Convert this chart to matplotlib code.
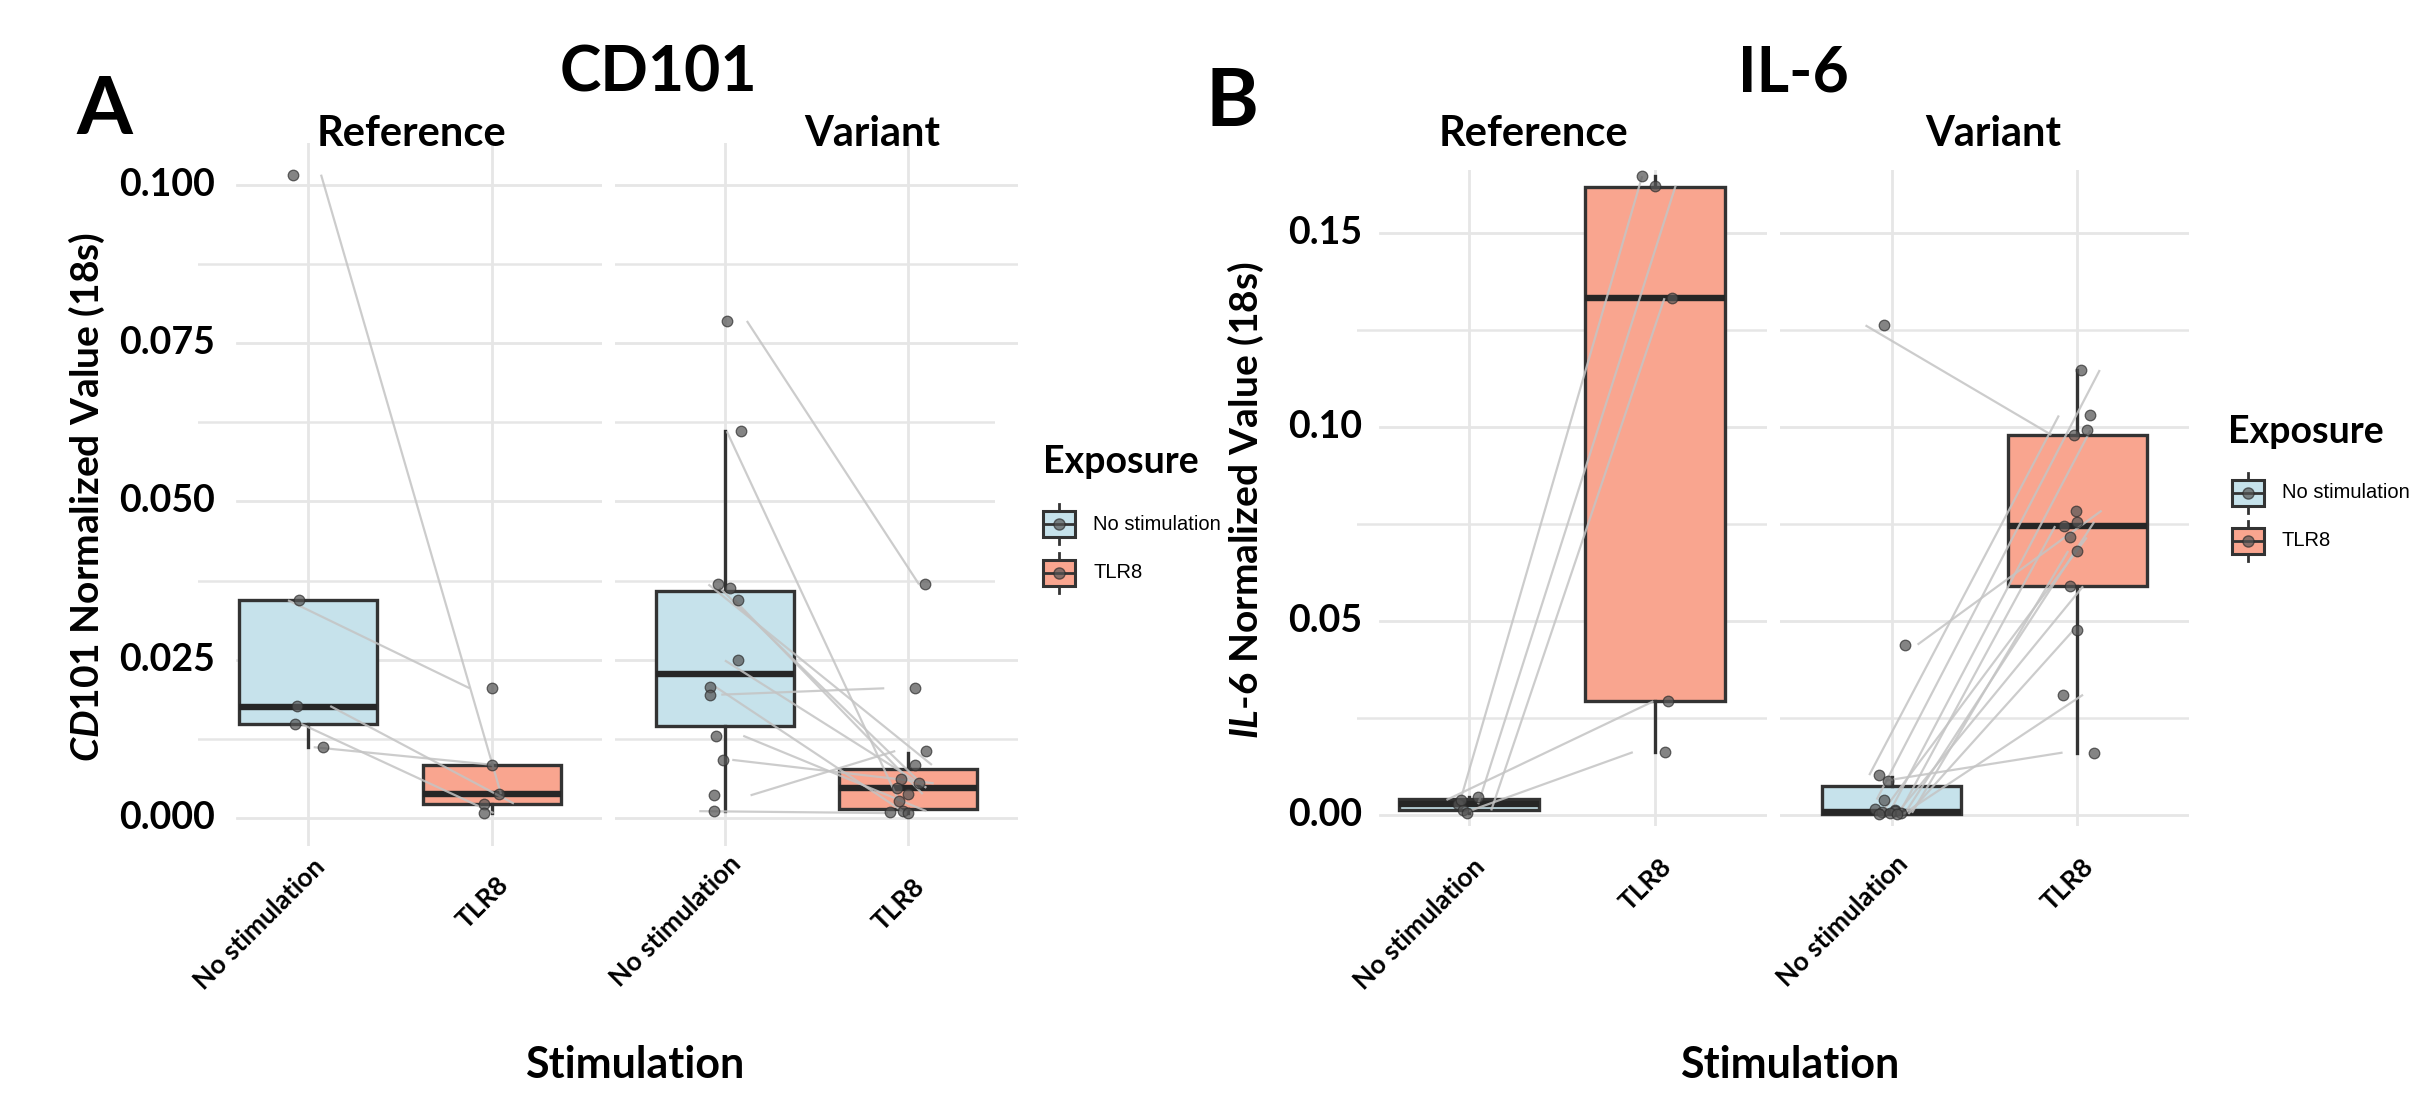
import numpy as np
import matplotlib
matplotlib.use('Agg')
import matplotlib.pyplot as plt
import matplotlib.transforms as mtransforms
from matplotlib.patches import Rectangle
from matplotlib.lines import Line2D

plt.rcParams['font.family'] = ['Lato', 'DejaVu Sans']
plt.rcParams['font.weight'] = 'bold'
plt.rcParams['mathtext.fontset'] = 'custom'
plt.rcParams['mathtext.it'] = 'Lato:italic:bold'
plt.rcParams['mathtext.rm'] = 'Lato:bold'

W, H = 2417, 1106  # pixels at dpi 100

categories = ['No stimulation', 'TLR8']
exposures = ['No stimulation', 'TLR8']

# ---------------- CD101 ----------------
# Reference donors (paired: no stimulation -> TLR8)
cd101_ref_ns = [0.1016, 0.0344, 0.0177, 0.0149, 0.0112]
cd101_ref_tlr8 = [0.0038, 0.0205, 0.0023, 0.0008, 0.0084]
cd101_ref_ns_jit = [-0.08, -0.05, -0.06, -0.07, 0.08]
cd101_ref_tlr8_jit = [0.04, 0.0, -0.04, -0.04, 0.0]
cd101_ref_line_start = [0.07, -0.11, 0.12, -0.04, 0.03]
cd101_ref_line_end = [0.05, -0.12, 0.12, 0.01, 0.01]
# box stats: whislo, q1, median, q3, whishi
cd101_ref_ns_box = [0.0112, 0.0149, 0.0176, 0.0344, 0.0344]
cd101_ref_tlr8_box = [0.0008, 0.0022, 0.0038, 0.0084, 0.0084]

# Variant donors
cd101_var_ns = [0.0785, 0.0611, 0.0369, 0.0364, 0.0345, 0.0249,
                0.0207, 0.0195, 0.0130, 0.0092, 0.0036, 0.0011]
cd101_var_tlr8 = [0.0369, 0.0027, 0.0084, 0.0061, 0.0038, 0.0048,
                  0.0009, 0.0205, 0.0011, 0.0055, 0.0106, 0.0008]
cd101_var_ns_jit = [0.01, 0.09, -0.04, 0.03, 0.07, 0.07,
                    -0.08, -0.08, -0.05, -0.01, -0.06, -0.06]
cd101_var_tlr8_jit = [0.09, -0.05, 0.04, -0.04, 0.0, -0.06,
                      -0.10, 0.04, -0.03, 0.06, 0.10, 0.0]
cd101_var_line_start = [0.12, 0.01, -0.09, -0.03, 0.05, 0.0,
                        -0.05, -0.02, 0.10, 0.04, 0.14, -0.14]
cd101_var_line_end = [0.06, -0.05, 0.13, 0.05, 0.08, 0.10,
                      -0.02, -0.13, 0.10, 0.14, -0.07, -0.11]
cd101_var_ns_box = [0.0011, 0.0145, 0.0228, 0.0358, 0.0611]
cd101_var_tlr8_box = [0.0008, 0.0014, 0.0048, 0.0077, 0.0103]

# ---------------- IL-6 ----------------
il6_ref_ns = [0.0047, 0.0028, 0.0012, 0.0039, 0.0005]
il6_ref_tlr8 = [0.1645, 0.1621, 0.1331, 0.0293, 0.0162]
il6_ref_ns_jit = [0.05, -0.06, -0.03, -0.04, -0.01]
il6_ref_tlr8_jit = [-0.07, 0.0, 0.09, 0.07, 0.05]
il6_ref_line_start = [-0.04, 0.05, 0.12, -0.12, -0.03]
il6_ref_line_end = [-0.07, 0.11, 0.05, -0.01, -0.12]
il6_ref_ns_box = [0.0005, 0.0012, 0.0028, 0.0041, 0.0047]
il6_ref_tlr8_box = [0.0162, 0.0293, 0.1331, 0.1618, 0.1645]

il6_var_ns = [0.1261, 0.0439, 0.0103, 0.0089, 0.0040, 0.0017, 0.0012,
              0.0011, 0.0008, 0.0006, 0.0005, 0.0003, 0.0002]
il6_var_tlr8 = [0.0979, 0.0784, 0.1029, 0.0161, 0.1146, 0.0991, 0.0744,
                0.0755, 0.0715, 0.0680, 0.0589, 0.0477, 0.0310]
il6_var_ns_jit = [-0.04, 0.07, -0.07, -0.02, -0.04, -0.09, 0.02,
                  0.02, -0.05, 0.05, -0.01, 0.03, -0.07]
il6_var_tlr8_jit = [-0.02, -0.01, 0.07, 0.09, 0.02, 0.05, -0.07,
                    0.0, -0.04, 0.0, -0.04, 0.0, -0.08]
il6_var_line_start = [-0.14, 0.14, -0.12, -0.03, -0.08, 0.0, 0.05,
                      0.08, -0.05, 0.11, 0.03, 0.09, 0.06]
il6_var_line_end = [-0.14, 0.13, -0.10, -0.08, 0.12, 0.07, -0.12,
                    0.09, 0.05, -0.05, 0.03, -0.02, 0.03]
il6_var_ns_box = [0.0002, 0.0003, 0.0008, 0.0075, 0.0098]
il6_var_tlr8_box = [0.0161, 0.0589, 0.0744, 0.0979, 0.1146]

cd101_major = [0.0, 0.025, 0.05, 0.075, 0.1]
cd101_major_labels = ['0.000', '0.025', '0.050', '0.075', '0.100']
cd101_minor = [0.0125, 0.0375, 0.0625, 0.0875]
il6_major = [0.0, 0.05, 0.10, 0.15]
il6_major_labels = ['0.00', '0.05', '0.10', '0.15']
il6_minor = [0.025, 0.075, 0.125]

BLUE = '#C6E2EB'
SALMON = '#F9A58F'
EDGE = '#333333'
GRID = '#e6e6e6'

fig = plt.figure(figsize=(W / 100, H / 100), dpi=100)
fig.patch.set_facecolor('white')


def fx(px):
    return px / W


def fy(py):
    return 1 - py / H


def px_offset(dx, dy):
    return mtransforms.ScaledTranslation(dx / 100, -dy / 100, fig.dpi_scale_trans)


def make_ax(left, right, top, bottom):
    ax = fig.add_axes([fx(left), fy(bottom), (right - left) / W, (bottom - top) / H])
    ax.set_facecolor('none')
    for s in ax.spines.values():
        s.set_visible(False)
    ax.set_xticks([])
    ax.set_yticks([])
    return ax


def box_stats(vals):
    return dict(whislo=vals[0], q1=vals[1], med=vals[2], q3=vals[3],
                whishi=vals[4], fliers=[])


def draw_facet(ax, ylim, major, minor, major_start, ns, tlr8, ns_jit, tlr8_jit,
               ls, le, ns_box, tlr8_box):
    ax.set_xlim(-0.6, 1.6)
    ax.set_ylim(*ylim)
    for v in minor:
        ax.axhline(v, color=GRID, lw=1.8, zorder=0.5)
    for v in major:
        ax.axhline(v, xmin=major_start, color=GRID, lw=2.0, zorder=0.5)
    for c in range(len(categories)):
        ax.axvline(c, color=GRID, lw=2.0, zorder=0.5)

    bp = ax.bxp([box_stats(ns_box), box_stats(tlr8_box)], positions=[0, 1],
                widths=0.75, patch_artist=True, showfliers=False, showcaps=False,
                manage_ticks=False,
                boxprops=dict(edgecolor=EDGE, linewidth=2.4, zorder=2),
                whiskerprops=dict(color=EDGE, linewidth=2.4, zorder=2),
                medianprops=dict(color='#262626', linewidth=4.6, zorder=2.5))
    for patch, col in zip(bp['boxes'], [BLUE, SALMON]):
        patch.set_facecolor(col)

    for a, b, s0, s1 in zip(ns, tlr8, ls, le):
        ax.plot([0 + s0, 1 + s1], [a, b], color='#c4c4c4', lw=1.6, alpha=0.85,
                zorder=3, solid_capstyle='butt')
    ax.scatter(np.array(ns_jit), ns, s=58, color='#555555', alpha=0.72,
               edgecolor='#2e2e2e', linewidth=0.9, zorder=4)
    ax.scatter(1 + np.array(tlr8_jit), tlr8, s=58, color='#555555', alpha=0.72,
               edgecolor='#2e2e2e', linewidth=0.9, zorder=4)
    ax.set_xticks([])
    ax.set_yticks([])


def ytick_labels(ax, ticks, labels, dx):
    tr = mtransforms.blended_transform_factory(ax.transAxes, ax.transData) + px_offset(dx, 0)
    for t, lab in zip(ticks, labels):
        ax.text(0, t, lab, transform=tr, ha='right', va='center', fontsize=27,
                fontweight='bold', color='black')


def xtick_labels(ax, drops):
    for i, lab in enumerate(categories):
        tr = ax.get_xaxis_transform() + px_offset(18, drops[i])
        ax.text(i, 0, lab, transform=tr, rotation=45, rotation_mode='anchor',
                ha='right', va='baseline', fontsize=19, fontweight='bold')


# ---------------- Panel A: CD101 ----------------
A_top, A_bot = 143, 846
A_ylim = (-0.0044, 0.1066)
axA1 = make_ax(198, 602, A_top, A_bot)
draw_facet(axA1, A_ylim, cd101_major, cd101_minor, 0.097,
           cd101_ref_ns, cd101_ref_tlr8, cd101_ref_ns_jit, cd101_ref_tlr8_jit,
           cd101_ref_line_start, cd101_ref_line_end, cd101_ref_ns_box, cd101_ref_tlr8_box)
axA2 = make_ax(615, 1018, A_top, A_bot)
draw_facet(axA2, A_ylim, cd101_major, cd101_minor, 0.0,
           cd101_var_ns, cd101_var_tlr8, cd101_var_ns_jit, cd101_var_tlr8_jit,
           cd101_var_line_start, cd101_var_line_end, cd101_var_ns_box, cd101_var_tlr8_box)
ytick_labels(axA1, cd101_major, cd101_major_labels, 17)
xtick_labels(axA1, [22, 40])
xtick_labels(axA2, [19, 42])

# ---------------- Panel B: IL-6 ----------------
B_top, B_bot = 170, 826
B_ylim = (-0.0028, 0.1661)
axB1 = make_ax(1357, 1767, B_top, B_bot)
draw_facet(axB1, B_ylim, il6_major, il6_minor, 0.056,
           il6_ref_ns, il6_ref_tlr8, il6_ref_ns_jit, il6_ref_tlr8_jit,
           il6_ref_line_start, il6_ref_line_end, il6_ref_ns_box, il6_ref_tlr8_box)
axB2 = make_ax(1780, 2189, B_top, B_bot)
draw_facet(axB2, B_ylim, il6_major, il6_minor, 0.0,
           il6_var_ns, il6_var_tlr8, il6_var_ns_jit, il6_var_tlr8_jit,
           il6_var_line_start, il6_var_line_end, il6_var_ns_box, il6_var_tlr8_box)
ytick_labels(axB1, il6_major, il6_major_labels, 5)
xtick_labels(axB1, [42, 42])
xtick_labels(axB2, [39, 42])

# ---------------- titles and labels ----------------
fig.text(fx(104), fy(134), 'A', fontsize=58, fontweight='bold', ha='center', va='baseline')
fig.text(fx(1232), fy(126), 'B', fontsize=58, fontweight='bold', ha='center', va='baseline')
fig.text(fx(658), fy(92), 'CD101', fontsize=45, fontweight='bold', ha='center', va='baseline')
fig.text(fx(1793), fy(91), 'IL-6', fontsize=45, fontweight='bold', ha='center', va='baseline')

for xc, lab in [(412, 'Reference'), (872, 'Variant'), (1533, 'Reference'), (1993, 'Variant')]:
    fig.text(fx(xc), fy(146), lab, fontsize=30, fontweight='bold', ha='center', va='baseline')

fig.text(fx(635), fy(1078), 'Stimulation', fontsize=31, fontweight='bold', ha='center', va='baseline')
fig.text(fx(1790), fy(1078), 'Stimulation', fontsize=31, fontweight='bold', ha='center', va='baseline')

fig.text(fx(87), fy(497), r'$\mathit{CD101}$ Normalized Value (18s)', fontsize=28,
         fontweight='bold', rotation=90, ha='center', va='center')
fig.text(fx(1246), fy(500), r'$\mathit{IL}$-$\mathit{6}$ Normalized Value (18s)', fontsize=28,
         fontweight='bold', rotation=90, ha='center', va='center')

# white patch behind the panel A legend (covers grid ends)
fig.add_artist(Rectangle((fx(995), fy(620)), 245 / W, 240 / H, transform=fig.transFigure,
                         facecolor='white', edgecolor='none', zorder=1))


def draw_legend(x_title, y_title, x_key, y_keys, x_text):
    fig.text(fx(x_title), fy(y_title), 'Exposure', fontsize=27, fontweight='bold',
             ha='left', va='baseline', zorder=3)
    for yc, lab, col in zip(y_keys, exposures, [BLUE, SALMON]):
        w, h = 32, 26
        fig.add_artist(Line2D([fx(x_key + w / 2)] * 2, [fy(yc - h / 2 - 7), fy(yc + h / 2 + 7)],
                              transform=fig.transFigure, color=EDGE, lw=2.0, zorder=2))
        fig.add_artist(Rectangle((fx(x_key), fy(yc + h / 2)), w / W, h / H,
                                 transform=fig.transFigure, facecolor=col,
                                 edgecolor=EDGE, lw=2.2, zorder=2.5))
        fig.add_artist(Line2D([fx(x_key), fx(x_key + w)], [fy(yc)] * 2,
                              transform=fig.transFigure, color=EDGE, lw=2.0, zorder=3))
        fig.add_artist(Line2D([fx(x_key + w / 2)], [fy(yc)], transform=fig.transFigure,
                              marker='o', ms=8, mfc='#555555', mec='#2e2e2e', alpha=0.7,
                              lw=0, zorder=3.5))
        fig.text(fx(x_text), fy(yc), lab, fontsize=14.5, fontweight='normal',
                 family=['Liberation Sans', 'DejaVu Sans'],
                 ha='left', va='center', zorder=3)


draw_legend(1043, 473, 1043, [524, 573], 1093)
draw_legend(2228, 443, 2232, [493, 541], 2282)

fig.savefig('out.png', dpi=100, facecolor='white')
